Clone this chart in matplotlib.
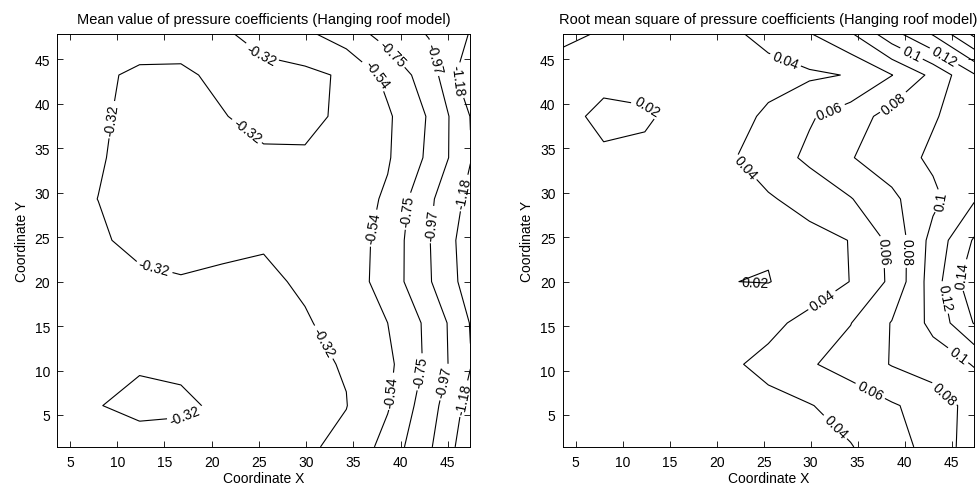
import matplotlib

matplotlib.use("Agg")

import numpy as np
import matplotlib.pyplot as plt

plt.rcParams["font.family"] = ["Liberation Sans", "DejaVu Sans"]
plt.rcParams["contour.negative_linestyle"] = "solid"

# measurement grid (pressure taps), rows run from bottom (y small) to top
x_coord = [3.6, 7.98, 12.36, 16.74, 21.12, 25.5, 29.88, 34.26, 38.64, 43.02, 47.4]
y_coord = [1.4, 6.05, 10.7, 15.35, 20.0, 24.65, 29.3, 33.95, 38.6, 43.25, 47.9]

mean_cp = [
    [-0.22, -0.24, -0.254, -0.271, -0.27, -0.27, -0.29, -0.37, -0.62, -0.94, -1.32],
    [-0.24, -0.315, -0.36, -0.34, -0.30, -0.28, -0.285, -0.315, -0.52, -0.88, -1.26],
    [-0.23, -0.26, -0.305, -0.30, -0.28, -0.27, -0.29, -0.33, -0.49, -0.80, -1.17],
    [-0.24, -0.26, -0.28, -0.29, -0.28, -0.27, -0.30, -0.40, -0.54, -0.80, -1.19],
    [-0.24, -0.27, -0.29, -0.31, -0.29, -0.28, -0.35, -0.44, -0.62, -0.95, -1.28],
    [-0.27, -0.30, -0.36, -0.37, -0.36, -0.34, -0.36, -0.44, -0.61, -0.96, -1.30],
    [-0.28, -0.321, -0.37, -0.38, -0.37, -0.36, -0.37, -0.43, -0.57, -0.93, -1.24],
    [-0.27, -0.31, -0.36, -0.37, -0.35, -0.335, -0.3425, -0.40, -0.52, -0.79, -1.17],
    [-0.27, -0.30, -0.36, -0.37, -0.325, -0.29, -0.27, -0.36, -0.51, -0.77, -1.185],
    [-0.26, -0.30, -0.34, -0.335, -0.30, -0.28, -0.27, -0.35, -0.60, -0.86, -1.35],
    [-0.22, -0.24, -0.26, -0.28, -0.30, -0.37, -0.50, -0.65, -0.83, -0.985, -1.19],
]

rms_cp = [
    [0.030, 0.028, 0.027, 0.027, 0.028, 0.030, 0.032, 0.039, 0.052, 0.067, 0.090],
    [0.030, 0.028, 0.027, 0.027, 0.030, 0.034, 0.039, 0.048, 0.058, 0.068, 0.088],
    [0.030, 0.030, 0.029, 0.030, 0.036, 0.046, 0.058, 0.068, 0.081, 0.090, 0.101],
    [0.030, 0.029, 0.028, 0.028, 0.028, 0.034, 0.047, 0.0595, 0.081, 0.105, 0.141],
    [0.028, 0.027, 0.026, 0.024, 0.0202, 0.0195, 0.0266, 0.0405, 0.064, 0.110, 0.155],
    [0.028, 0.027, 0.027, 0.026, 0.025, 0.0213, 0.034, 0.0405, 0.065, 0.107, 0.142],
    [0.029, 0.028, 0.027, 0.027, 0.029, 0.038, 0.047, 0.059, 0.076, 0.095, 0.118],
    [0.030, 0.025, 0.025, 0.028, 0.037, 0.050, 0.064, 0.079, 0.090, 0.104, 0.115],
    [0.030, 0.012, 0.017, 0.028, 0.030, 0.044, 0.058, 0.070, 0.088, 0.098, 0.112],
    [0.028, 0.030, 0.028, 0.028, 0.030, 0.032, 0.037, 0.041, 0.0595, 0.085, 0.118],
    [0.046, 0.0375, 0.030, 0.030, 0.035, 0.047, 0.059, 0.078, 0.113, 0.142, 0.185],
]

mean_levels = [-1.18, -0.97, -0.75, -0.54, -0.32]
rms_levels = [0.02, 0.04, 0.06, 0.08, 0.10, 0.12, 0.14, 0.16, 0.18]

# where the contour labels sit in the reference
mean_label_pos = [
    (25.5, 45.9), (9.6, 38.2), (23.7, 36.9), (13.8, 21.1), (31.7, 13.1), (16.8, 5.7),
    (37.5, 43.4), (37.2, 26.0), (39.5, 7.6),
    (38.9, 45.5), (41.1, 27.9), (42.8, 9.7),
    (43.2, 45.1), (43.5, 26.4), (44.6, 8.7),
    (45.6, 42.5), (46.2, 30.1), (46.4, 6.9),
]
rms_label_pos = [
    (12.5, 39.6),
    (27.5, 45.4), (23.0, 32.8), (31.4, 17.6), (32.5, 3.5),
    (32.1, 39.0), (38.3, 23.4), (36.2, 7.4),
    (39.0, 39.9), (40.8, 23.4), (44.0, 7.1),
    (40.8, 45.8), (44.0, 29.0), (45.2, 11.0),
    (44.0, 45.0), (44.2, 18.2),
    (45.9, 20.8),
]
# label of the tiny loop is drawn over the line, not cut into it
rms_overlay_pos = [(24.1, 19.8)]

X, Y = np.meshgrid(x_coord, y_coord)

fig = plt.figure(figsize=(9.8, 4.89), dpi=100)
ax1 = fig.add_axes([0.058, 0.084, 0.422, 0.845])
ax2 = fig.add_axes([0.574, 0.084, 0.420, 0.845])

panels = [
    (ax1, mean_cp, mean_levels, mean_label_pos, [], lambda v: f"{v:.2f}",
     "Mean value of pressure coefficients (Hanging roof model)"),
    (ax2, rms_cp, rms_levels, rms_label_pos, rms_overlay_pos, lambda v: f"{v:g}",
     "Root mean square of pressure coefficients (Hanging roof model)"),
]

for ax, z, levels, label_pos, overlay_pos, fmt, title in panels:
    cs = ax.contour(X, Y, np.array(z), levels=levels, colors="k", linewidths=0.8)
    ax.clabel(cs, manual=label_pos, fmt=fmt, fontsize=10, inline=True, inline_spacing=3)
    if overlay_pos:
        ax.clabel(cs, manual=overlay_pos, fmt=fmt, fontsize=10, inline=False)
    ax.set_xlim(x_coord[0], x_coord[-1])
    ax.set_ylim(y_coord[0], y_coord[-1])
    ax.set_xticks(range(5, 50, 5))
    ax.set_yticks(range(5, 50, 5))
    ax.tick_params(direction="in", top=True, right=True, length=4, labelsize=10, width=0.6)
    ax.tick_params(axis="x", pad=6)
    ax.tick_params(axis="y", pad=5)
    for sp in ax.spines.values():
        sp.set_linewidth(0.7)
    ax.set_xlabel("Coordinate X", fontsize=10, labelpad=1)
    ax.set_ylabel("Coordinate Y", fontsize=10, labelpad=4)
    ax.set_title(title, fontsize=10.5, pad=8)

fig.savefig("out.png", dpi=100)
